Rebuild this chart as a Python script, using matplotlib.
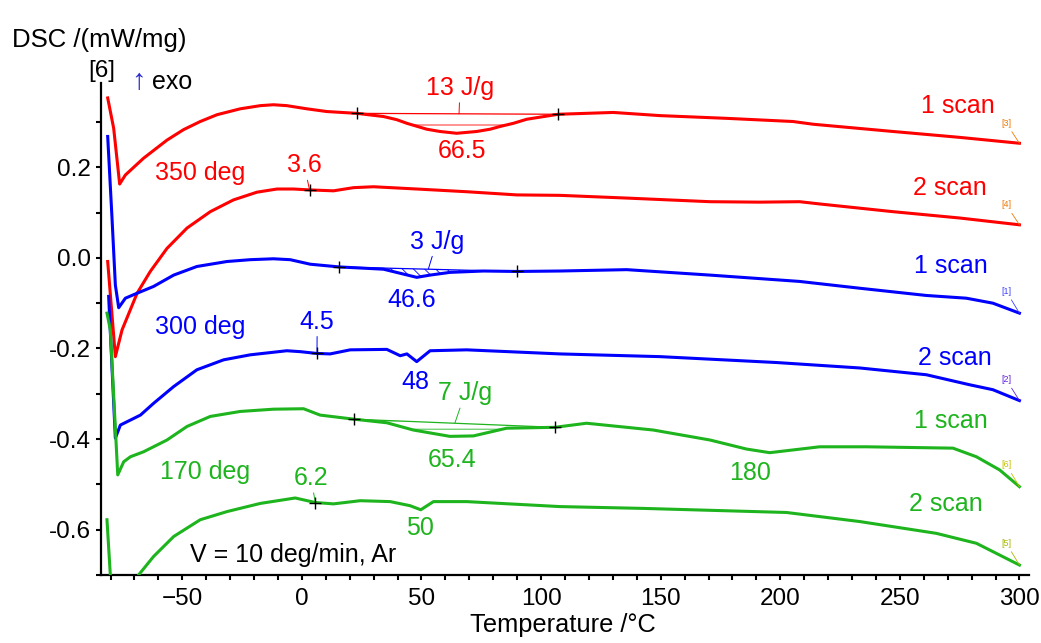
import numpy as np
import matplotlib.pyplot as plt
from matplotlib.ticker import MultipleLocator

plt.rcParams['font.family'] = ['Liberation Sans', 'DejaVu Sans']
plt.rcParams['hatch.linewidth'] = 0.6

RED = '#ff0000'
BLUE = '#0000ff'
GREEN = '#1db41d'
ANN_SIZE = 18

# 350 deg, 1 scan
red1_t = [-81.2, -78.7, -76.2, -73.8, -66.2, -56.4, -49.5, -42.5, -35.5, -25.8, -17.4, -11.9, -6.3,
          2.1, 10.4, 23.0, 34.1, 39.7, 43.9, 52.2, 57.7, 64.7, 73.1, 78.7, 82.8, 88.4, 94.0, 107.2,
          130.2, 149.7, 177.5, 205.3, 213.7, 247.1, 275.0, 300.0]
red1_d = [0.353, 0.286, 0.163, 0.183, 0.220, 0.260, 0.283, 0.301, 0.316, 0.329, 0.336, 0.338, 0.336,
          0.329, 0.323, 0.319, 0.312, 0.305, 0.297, 0.284, 0.279, 0.275, 0.279, 0.284, 0.290, 0.297, 0.306, 0.317,
          0.321, 0.314, 0.308, 0.301, 0.295, 0.279, 0.266, 0.253]
# 350 deg, 2 scan
red2_t = [-81.2, -78.0, -75.2, -68.9, -63.4, -56.4, -48.0, -38.3, -28.6, -18.8, -10.4, -3.5, 3.2,
          13.2, 21.6, 29.9, 48.0, 68.9, 89.8, 107.9, 135.8, 170.6, 191.4, 208.1, 216.5, 247.1, 275.0, 300.0]
red2_d = [-0.008, -0.218, -0.159, -0.078, -0.030, 0.021, 0.066, 0.102, 0.128, 0.145, 0.152, 0.152, 0.150,
          0.148, 0.155, 0.157, 0.152, 0.146, 0.139, 0.138, 0.132, 0.124, 0.123, 0.124, 0.119, 0.102, 0.088, 0.073]
# 300 deg, 1 scan
blue1_t = [-81.2, -79.4, -78.0, -76.6, -73.8, -68.9, -62.0, -53.6, -43.9, -31.3, -21.6, -11.9, -4.9,
           3.5, 15.6, 34.1, 41.1, 48.0, 53.6, 61.9, 75.9, 89.8, 107.9, 135.8, 170.6, 208.1, 233.2,
           261.1, 277.8, 288.9, 300.0]
blue1_d = [0.268, 0.088, -0.060, -0.110, -0.089, -0.078, -0.063, -0.038, -0.019, -0.008, -0.004, -0.002, -0.004,
           -0.014, -0.020, -0.025, -0.034, -0.043, -0.038, -0.032, -0.029, -0.030, -0.029, -0.026, -0.038, -0.052, -0.067,
           -0.083, -0.089, -0.100, -0.122]
# 300 deg, 2 scan
blue2_t = [-80.8, -78.0, -75.9, -71.7, -67.5, -62.0, -53.6, -43.9, -32.7, -21.6, -6.3, -0.7, 6.3, 11.8,
           20.2, 35.5, 41.1, 43.9, 48.0, 53.6, 68.9, 107.9, 149.7, 198.4, 233.2, 261.1, 279.1, 288.9, 300.0]
blue2_d = [-0.085, -0.398, -0.369, -0.358, -0.347, -0.321, -0.284, -0.247, -0.225, -0.214, -0.205, -0.207, -0.211, -0.212,
           -0.203, -0.202, -0.216, -0.212, -0.229, -0.205, -0.203, -0.212, -0.218, -0.231, -0.243, -0.258, -0.280, -0.291, -0.315]
# 170 deg, 1 scan
green1_t = [-81.5, -80.1, -77.0, -74.5, -71.7, -66.2, -56.4, -48.0, -38.3, -25.8, -11.9, 0.7, 7.6, 21.6,
            35.5, 46.6, 61.9, 71.7, 85.6, 105.8, 119.0, 146.9, 170.6, 185.9, 195.6, 216.5, 236.0, 272.2,
            282.0, 291.7, 300.0]
green1_d = [-0.122, -0.159, -0.479, -0.450, -0.439, -0.428, -0.402, -0.372, -0.350, -0.339, -0.334, -0.333, -0.347, -0.356,
            -0.364, -0.380, -0.394, -0.393, -0.376, -0.374, -0.365, -0.380, -0.402, -0.422, -0.430, -0.417, -0.417, -0.420,
            -0.439, -0.468, -0.505]
# 170 deg, 2 scan (dips below the plotted range at the start)
green2_t = [-81.5, -80.1, -78.5, -73.0, -68.3, -62.0, -53.6, -42.5, -31.3, -17.4, -2.8, 5.6, 13.2, 24.4,
            36.9, 45.2, 49.7, 55.0, 68.9, 107.9, 142.7, 202.6, 233.2, 265.2, 282.0, 300.0]
green2_d = [-0.578, -0.700, -0.790, -0.790, -0.700, -0.659, -0.615, -0.578, -0.560, -0.542, -0.530, -0.540, -0.543, -0.536,
            -0.538, -0.547, -0.556, -0.538, -0.538, -0.549, -0.553, -0.562, -0.582, -0.608, -0.630, -0.678]

# integration limits (onset, end) of the first-scan peaks
red1_lim = [23.0, 107.2]
blue1_lim = [15.6, 89.8]
green1_lim = [21.6, 105.8]
# glass transition markers of the second scans
red2_tg = [3.2, 0.150]
blue2_tg = [6.3, -0.211]
green2_tg = [5.6, -0.540]

fig = plt.figure(figsize=(10.41, 6.43), dpi=100)
ax = fig.add_axes([101 / 1041, 1 - 575 / 643, 928 / 1041, 492 / 643])

for t, d, c in [(red1_t, red1_d, RED), (red2_t, red2_d, RED), (blue1_t, blue1_d, BLUE),
                (blue2_t, blue2_d, BLUE), (green1_t, green1_d, GREEN), (green2_t, green2_d, GREEN)]:
    ax.plot(t, d, color=c, lw=2.2, solid_joinstyle='round', zorder=3)


def peak(t, d, lim, c, hatch):
    t = np.array(t)
    d = np.array(d)
    m = (t >= lim[0]) & (t <= lim[1])
    ends = [d[t == lim[0]][0], d[t == lim[1]][0]]
    base = np.interp(t[m], lim, ends)
    ax.fill_between(t[m], d[m], base, where=d[m] <= base, interpolate=True,
                    facecolor='none', edgecolor=c, hatch=hatch, lw=0, zorder=2)
    ax.plot(lim, ends, color=c, lw=0.9, zorder=2)
    ax.plot(lim, ends, '+', color='k', ms=9, mew=1.0, zorder=4)


peak(red1_t, red1_d, red1_lim, RED, '-')
peak(blue1_t, blue1_d, blue1_lim, BLUE, '\\\\\\')
peak(green1_t, green1_d, green1_lim, GREEN, '--')

for p in [red2_tg, blue2_tg, green2_tg]:
    ax.plot(p[0], p[1], '+', color='k', ms=9, mew=1.0, zorder=4)


def lab(s, x, y, c, xy=None):
    if xy is None:
        ax.text(x, y, s, color=c, fontsize=ANN_SIZE, ha='center', va='center')
    else:
        ax.annotate(s, xy=xy, xytext=(x, y), color=c, fontsize=ANN_SIZE,
                    ha='center', va='center',
                    arrowprops=dict(arrowstyle='-', color=c, lw=0.7, shrinkA=0, shrinkB=0))


lab('13 J/g', 66.1, 0.375, RED, xy=(65.7, 0.318))
lab('66.5', 66.8, 0.235, RED)
lab('350 deg', -42.5, 0.187, RED)
lab('3.6', 1.0, 0.204, RED, xy=red2_tg)
lab('1 scan', 274.3, 0.336, RED)
lab('2 scan', 270.8, 0.154, RED)

lab('3 J/g', 56.4, 0.036, BLUE, xy=(52.9, -0.024))
lab('46.6', 45.9, -0.093, BLUE)
lab('300 deg', -42.5, -0.152, BLUE)
lab('4.5', 6.4, -0.141, BLUE, xy=blue2_tg)
lab('48', 47.3, -0.273, BLUE)
lab('1 scan', 271.5, -0.019, BLUE)
lab('2 scan', 272.9, -0.221, BLUE)

lab('7 J/g', 68.2, -0.299, GREEN, xy=(64.0, -0.364))
lab('65.4', 62.7, -0.446, GREEN)
lab('170 deg', -40.4, -0.472, GREEN)
lab('6.2', 3.8, -0.486, GREEN, xy=green2_tg)
lab('50', 49.4, -0.597, GREEN)
lab('180', 187.2, -0.475, GREEN)
lab('1 scan', 271.5, -0.361, GREEN)
lab('2 scan', 269.4, -0.543, GREEN)

ax.text(-3.5, -0.656, 'V = 10 deg/min, Ar', color='k', fontsize=ANN_SIZE,
        ha='center', va='center')

# curve numbers at the right end
for s, y, end, c in [('[3]', 0.297, red1_d[-1], '#f07800'), ('[4]', 0.117, red2_d[-1], '#f07800'),
                     ('[1]', -0.074, blue1_d[-1], '#4040ff'), ('[2]', -0.269, blue2_d[-1], '#6020e0'),
                     ('[6]', -0.457, green1_d[-1], '#c8c000'), ('[5]', -0.630, green2_d[-1], '#a8b800')]:
    ax.annotate(s, xy=(300, end), xytext=(294.5, y), color=c, fontsize=6.5,
                ha='center', va='center',
                arrowprops=dict(arrowstyle='-', color=c, lw=0.6, shrinkA=1, shrinkB=0))

ax.set_xlim(-84, 304)
ax.set_ylim(-0.70, 0.386)
ax.xaxis.set_major_locator(MultipleLocator(50))
ax.xaxis.set_minor_locator(MultipleLocator(10))
ax.yaxis.set_minor_locator(MultipleLocator(0.1))
ax.set_yticks([0.2, 0.0, -0.2, -0.4, -0.6])
ax.set_yticklabels(['0.2', '0.0', '-0.2', '-0.4', '-0.6'])
ax.spines['top'].set_visible(False)
ax.spines['right'].set_visible(False)
for s in ['left', 'bottom']:
    ax.spines[s].set_linewidth(1.6)
ax.tick_params(which='both', direction='out', length=3.5, width=1.5, labelsize=17.5)
ax.tick_params(axis='x', pad=6)
ax.tick_params(axis='y', pad=4)

fig.text(12 / 1041, 1 - 40 / 643, 'DSC /(mW/mg)', fontsize=18.5, ha='left', va='center')
fig.text(101.7 / 1041, 1 - 71 / 643, '[6]', fontsize=17.5, ha='center', va='center')
fig.text(138 / 1041, 1 - 81 / 643, '\u2191', fontsize=21, color='#2a2ad0', ha='center', va='center')
fig.text(172 / 1041, 1 - 82 / 643, 'exo', fontsize=18, ha='center', va='center')
fig.text(563 / 1041, 1 - 625 / 643, 'Temperature /\u00b0C', fontsize=18.3, ha='center', va='center')

fig.savefig('out.png', dpi=100)
